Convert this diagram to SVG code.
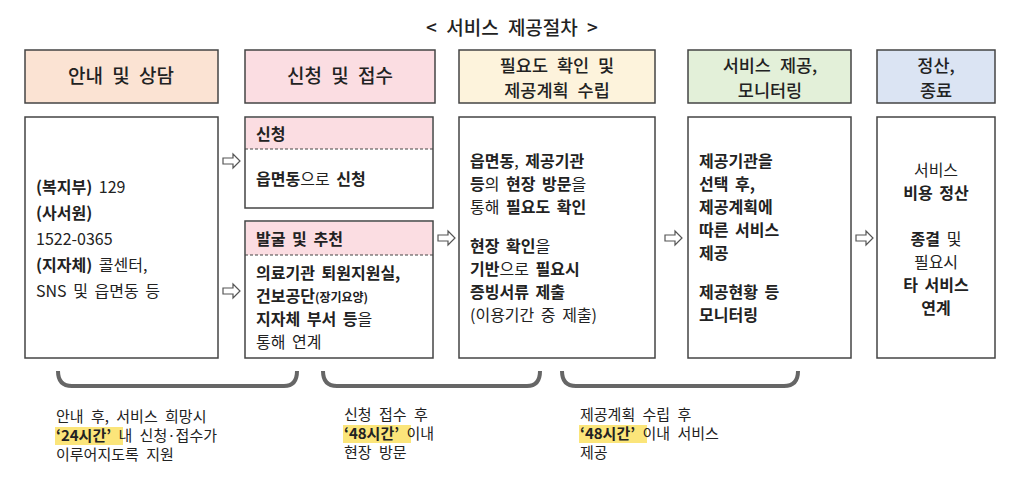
<svg xmlns="http://www.w3.org/2000/svg" width="1014" height="504" viewBox="0 0 1014 504">
<style>
text{font-family:"Noto Sans CJK KR","Noto Sans",sans-serif;fill:#222;font-size:16px;word-spacing:3px}
.h{font-size:19px;text-anchor:middle;font-weight:500;word-spacing:5px}
.h2{font-size:17.5px}
.b{font-weight:bold}
.box{fill:#fff;stroke:#444;stroke-width:1.5}
.hd{stroke:#444;stroke-width:1.5}
.arr{fill:#fff;stroke:#555;stroke-width:1.2}
.br{fill:none;stroke:#666;stroke-width:4}
.hl{fill:#fbe57a}
.note{font-size:15px;word-spacing:4px}
</style>
<text x="512" y="35" class="h" font-size="20">&lt; 서비스 제공절차 &gt;</text>
<g id="n1"><rect class="hd" x="25" y="50" width="193" height="53" fill="#fbe3d3"/><text x="121" y="83" class="h">안내 및 상담</text>
<rect class="box" x="25" y="117" width="193" height="241"/>
<text x="36" y="193"><tspan class="b">(복지부)</tspan> 129</text>
<text x="36" y="219" class="b">(사서원)</text>
<text x="36" y="245">1522-0365</text>
<text x="36" y="271"><tspan class="b">(지자체)</tspan> 콜센터,</text>
<text x="36" y="297">SNS 및 읍면동 등</text></g>
<g id="n2"><rect class="hd" x="245" y="50" width="190" height="53" fill="#fbdde2"/><text x="340" y="83" class="h">신청 및 접수</text>
<rect class="box" x="245" y="117" width="188" height="91"/>
<rect x="246" y="118" width="186" height="31" fill="#fbdde2"/>
<line x1="245" y1="149" x2="433" y2="149" stroke="#444" stroke-dasharray="3,2"/>
<text x="256" y="140" class="b">신청</text>
<text x="256" y="185"><tspan class="b">읍면동</tspan>으로 <tspan class="b">신청</tspan></text>
<rect class="box" x="245" y="221" width="188" height="137"/>
<rect x="246" y="222" width="186" height="33" fill="#fbdde2"/>
<line x1="245" y1="255" x2="433" y2="255" stroke="#444" stroke-dasharray="3,2"/>
<text x="256" y="245" class="b">발굴 및 추천</text>
<text x="256" y="279" class="b" word-spacing="0">의료기관 퇴원지원실,</text>
<text x="256" y="302" class="b">건보공단<tspan font-size="12" word-spacing="0">(장기요양)</tspan></text>
<text x="256" y="325"><tspan class="b">지자체 부서 등</tspan>을</text>
<text x="256" y="348">통해 연계</text></g>
<g id="n3"><rect class="hd" x="459" y="50" width="196" height="53" fill="#fdf3dc"/><text x="557" y="72" class="h h2">필요도 확인 및</text><text x="557" y="97" class="h h2">제공계획 수립</text>
<rect class="box" x="459" y="117" width="196" height="241"/>
<text x="470" y="167"><tspan class="b">읍면동</tspan>, <tspan class="b">제공기관</tspan></text>
<text x="470" y="190"><tspan class="b">등</tspan>의 <tspan class="b">현장 방문</tspan>을</text>
<text x="470" y="213">통해 <tspan class="b">필요도 확인</tspan></text>
<text x="470" y="252"><tspan class="b">현장 확인</tspan>을</text>
<text x="470" y="275"><tspan class="b">기반</tspan>으로 <tspan class="b">필요시</tspan></text>
<text x="470" y="298" class="b">증빙서류 제출</text>
<text x="470" y="321" font-size="14" word-spacing="1">(이용기간 중 제출)</text></g>
<g id="n4"><rect class="hd" x="688" y="50" width="163" height="53" fill="#e3f0d9"/><text x="770" y="72" class="h h2">서비스 제공,</text><text x="770" y="97" class="h h2">모니터링</text>
<rect class="box" x="688" y="117" width="163" height="241"/>
<text x="699" y="167" class="b">제공기관을</text>
<text x="699" y="190" class="b">선택 후,</text>
<text x="699" y="213" class="b">제공계획에</text>
<text x="699" y="236" class="b">따른 서비스</text>
<text x="699" y="259" class="b">제공</text>
<text x="699" y="298" class="b">제공현황 등</text>
<text x="699" y="321" class="b">모니터링</text></g>
<g id="n5"><rect class="hd" x="877" y="50" width="118" height="53" fill="#dbe4f3"/><text x="936" y="72" class="h h2">정산,</text><text x="936" y="97" class="h h2">종료</text>
<rect class="box" x="877" y="117" width="118" height="241"/>
<g text-anchor="middle"><text x="936" y="176">서비스</text>
<text x="936" y="199" class="b">비용 정산</text>
<text x="936" y="245"><tspan class="b">종결</tspan> 및</text>
<text x="936" y="268">필요시</text>
<text x="936" y="291" class="b">타 서비스</text>
<text x="936" y="314" class="b">연계</text></g></g>
<g id="connectors">
<defs><path id="ha" d="M0,-3 H10 V-7 L17,0 L10,7 V3 H0 Z"/></defs>
<use href="#ha" class="arr" x="223" y="161"/>
<use href="#ha" class="arr" x="223" y="291"/>
<use href="#ha" class="arr" x="438" y="238"/>
<use href="#ha" class="arr" x="665" y="238"/>
<use href="#ha" class="arr" x="856" y="238"/>
<path class="br" d="M58,371 Q58,386 72,386 H284 Q297,386 297,371"/>
<path class="br" d="M323,371 Q323,386 337,386 H527 Q540,386 540,371"/>
<path class="br" d="M562,371 Q562,386 576,386 H784 Q798,386 798,371"/>
</g>
<rect class="hl" x="55" y="427" width="68" height="18"/>
<rect class="hl" x="343" y="425" width="68" height="18"/>
<rect class="hl" x="579" y="425" width="68" height="18"/>
<g>
<text class="note" x="56" y="422">안내 후, 서비스 희망시</text>
<text class="note" x="56" y="441"><tspan class="b">‘24시간’</tspan> 내 신청·접수가</text>
<text class="note" x="56" y="460">이루어지도록 지원</text>
<text class="note" x="344" y="420">신청 접수 후</text>
<text class="note" x="344" y="439"><tspan class="b">‘48시간’</tspan> 이내</text>
<text class="note" x="344" y="458">현장 방문</text>
<text class="note" x="580" y="420">제공계획 수립 후</text>
<text class="note" x="580" y="439"><tspan class="b">‘48시간’</tspan> 이내 서비스</text>
<text class="note" x="580" y="458">제공</text>
</g>
</svg>
